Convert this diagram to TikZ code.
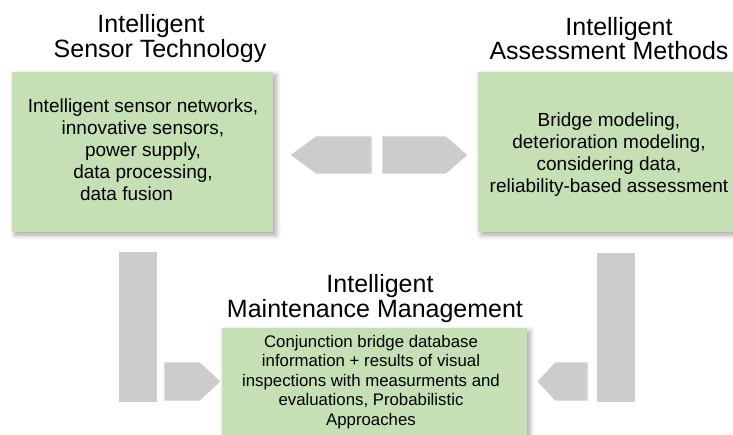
\documentclass[tikz,border=0pt]{standalone}
\usepackage{fontspec}
\setmainfont{Liberation Sans}
\usetikzlibrary{shadows.blur}
\definecolor{boxgreen}{HTML}{C5E0B4}
\definecolor{arrowgray}{HTML}{CCCCCC}
\tikzset{
  greenbox/.style={draw=none, fill=boxgreen, inner sep=0pt, outer sep=0pt,
    blur shadow={shadow xshift=3pt, shadow yshift=-3pt, shadow blur radius=5pt, shadow opacity=35}},
  titletext/.style={font=\fontsize{25}{24.5}\selectfont, align=center, inner sep=0pt},
  bodytext/.style={font=\fontsize{19}{22}\selectfont, align=center, inner sep=0pt},
  smalltext/.style={font=\fontsize{16.8}{19.5}\selectfont, align=center, inner sep=0pt},
  blockarrow/.style={fill=arrowgray, draw=white, line width=0.6pt},
}
\begin{document}
\begin{tikzpicture}[x=1pt,y=-1pt]
\useasboundingbox (0,0) rectangle (733,435);
\clip (0,0) rectangle (733,435);
% boxes
\node[greenbox, minimum width=261pt, minimum height=160pt] (sensorbox) at (142.5,152) {};
\node[greenbox, minimum width=267pt, minimum height=160pt] (assessbox) at (611.5,152) {};
\node[greenbox, minimum width=305pt, minimum height=122pt] (maintbox) at (374.5,389) {};
% titles
\node[titletext] (sensortitle) at (160,38.5) {Intelligent\hspace*{18pt}\\Sensor Technology};
\node[titletext] (assesstitle) at (609,38.5) {\hspace*{20pt}Intelligent\\Assessment Methods};
\node[titletext] (mainttitle) at (375,298.5) {\hspace*{10pt}Intelligent\\Maintenance Management};
% body texts
\node[bodytext] (sensortext) at (143,150) {Intelligent sensor networks,\\innovative sensors,\hspace*{6.6pt}\\power supply,\hspace*{18pt}\\data processing,\hspace*{18pt}\\data fusion\hspace*{33pt}};
\node[bodytext] (assesstext) at (609,155) {Bridge modeling,\\deterioration modeling,\\considering data,\\reliability-based assessment};
\node[smalltext] (mainttext) at (371,382) {Conjunction bridge database\\information + results of visual\\inspections with measurments and\\evaluations, Probabilistic\\Approaches};
% block arrows between top boxes
\draw[blockarrow] (372,136) -- (316,136) -- (290,155) -- (316,174) -- (372,174) -- cycle;
\draw[blockarrow] (382,136) -- (446,136) -- (468,155) -- (446,174) -- (382,174) -- cycle;
% bottom-left connector
\draw[blockarrow] (118,251) rectangle (157,402);
\draw[blockarrow] (164,362) -- (200,362) -- (221,381.5) -- (200,401) -- (164,401) -- cycle;
% bottom-right connector
\draw[blockarrow] (596,252) rectangle (635,402);
\draw[blockarrow] (588,362) -- (555,362) -- (537,381.5) -- (555,401) -- (588,401) -- cycle;
\end{tikzpicture}
\end{document}
